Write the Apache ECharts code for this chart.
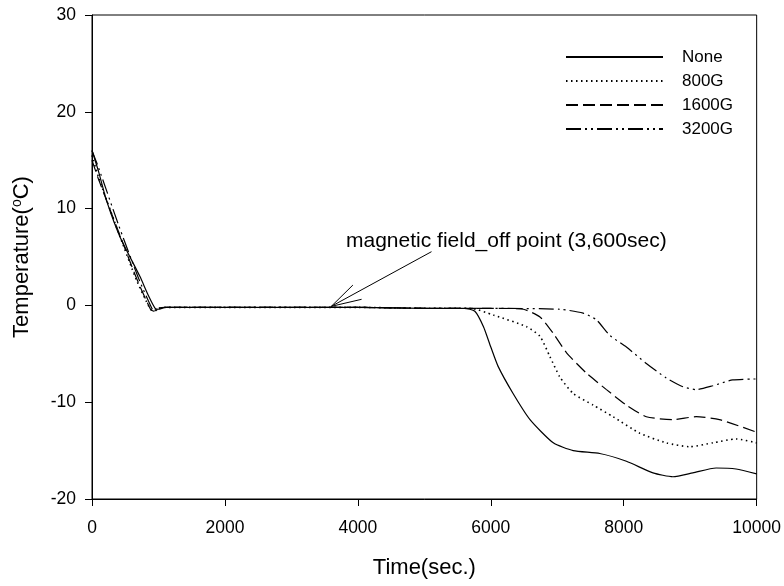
<!DOCTYPE html>
<html>
<head>
<meta charset="utf-8">
<script src="https://cdn.jsdelivr.net/npm/echarts@6/dist/echarts.min.js"></script>
<style>html,body{margin:0;padding:0;background:#fff}#c{width:784px;height:586px}</style>
</head>
<body>
<div id="c"></div>
<script>
const seriesNames = ['None', '800G', '1600G', '3200G'];
const xTicks = [0, 2000, 4000, 6000, 8000, 10000];
const yTicks = [-20, -10, 0, 10, 20, 30];

const noneData = [[0,16],[100,13.8],[220,10.8],[420,7.1],[720,3.0],[850,1.0],[950,-0.3],[1000,-0.4],[1100,-0.2],[2000,-0.2],[3000,-0.2],[4000,-0.2],[5000,-0.3],[5600,-0.3],[5760,-0.6],[5890,-2.2],[6000,-4.3],[6110,-6.3],[6335,-9.1],[6590,-11.8],[6940,-14.2],[7240,-15.0],[7640,-15.3],[8040,-16.1],[8440,-17.3],[8740,-17.7],[9040,-17.3],[9390,-16.8],[9690,-16.9],[10000,-17.4]];
const g800Data = [[0,15.5],[100,13.2],[400,7.5],[670,2.6],[870,-0.3],[920,-0.6],[1000,-0.3],[1100,-0.2],[2000,-0.2],[3000,-0.2],[4000,-0.2],[5000,-0.3],[5700,-0.3],[6040,-1.0],[6540,-2.2],[6740,-3.2],[6890,-5.3],[7040,-7.4],[7240,-9.1],[7540,-10.3],[7840,-11.5],[8240,-13.2],[8640,-14.2],[8990,-14.6],[9340,-14.2],[9690,-13.8],[10000,-14.2]];
const g1600Data = [[0,15],[100,13],[400,7.6],[670,2.8],[880,-0.4],[930,-0.6],[1000,-0.3],[1100,-0.2],[2000,-0.2],[3000,-0.2],[4000,-0.2],[5000,-0.3],[6000,-0.3],[6490,-0.4],[6740,-1.2],[6940,-2.9],[7140,-4.9],[7440,-7.0],[7740,-8.7],[8040,-10.3],[8340,-11.5],[8740,-11.8],[9090,-11.5],[9440,-11.8],[10000,-13.1]];
const g3200Data = [[0,16],[100,14.2],[400,8.3],[700,2.8],[900,-0.3],[950,-0.6],[1000,-0.3],[1100,-0.2],[2000,-0.2],[3000,-0.2],[4000,-0.2],[5000,-0.3],[6000,-0.3],[7040,-0.4],[7390,-0.8],[7590,-1.5],[7790,-3.1],[8040,-4.3],[8340,-6.0],[8640,-7.5],[8890,-8.4],[9090,-8.7],[9340,-8.3],[9640,-7.7],[10000,-7.6]];

const annotText = 'magnetic field_off point (3,600sec)';
const annotPoint = [3600, -0.1];
const annotEnds = [[5108, 5.55], [3925, 2.1], [4056, 0.63]];

const font = 'Liberation Sans, Arial, sans-serif';
const dashTypes = ['solid', [1.5, 3.5], [12, 5], [15, 4, 2, 4, 2, 4]];
const allData = [noneData, g800Data, g1600Data, g3200Data];

const series = seriesNames.map((n, i) => ({
  name: n, type: 'line', data: allData[i], symbol: 'none', showSymbol: false, silent: true,
  smooth: 0.2,
  lineStyle: { color: '#000', width: i === 1 ? 1.6 : 1.2, type: dashTypes[i] },
  itemStyle: { color: '#000' }
}));
series[0].markLine = {
  silent: true, symbol: 'none', animation: false,
  lineStyle: { color: '#000', width: 1, type: 'solid' },
  label: { show: false },
  data: annotEnds.map(e => [{ coord: annotPoint }, { coord: e }])
};

const chart = echarts.init(document.getElementById('c'));
chart.setOption({
  animation: false,
  backgroundColor: '#fff',
  grid: { left: 92, right: 27, top: 15, bottom: 87, show: true, borderColor: '#000', borderWidth: 1 },
  legend: {
    orient: 'vertical', left: 560, top: 42, itemWidth: 97, itemHeight: 14, itemGap: 4,
    data: seriesNames, selectedMode: false,
    itemStyle: { opacity: 0 },
    textStyle: { fontFamily: font, fontSize: 17, lineHeight: 20, color: '#000', padding: [0, 0, 0, 14] }
  },
  xAxis: {
    type: 'value', min: 0, max: 10000, interval: 2000,
    name: 'Time(sec.)', nameLocation: 'middle', nameGap: 58,
    nameTextStyle: { fontFamily: font, fontSize: 22, color: '#000' },
    axisLine: { onZero: false, lineStyle: { color: '#000', width: 1 } },
    axisTick: { inside: false, length: 7, lineStyle: { color: '#000' } },
    axisLabel: { fontFamily: font, fontSize: 17.5, color: '#000', margin: 20,
      formatter: v => xTicks.includes(v) ? String(v) : '' },
    splitLine: { show: false }
  },
  yAxis: {
    type: 'value', min: -20, max: 30, interval: 10,
    name: 'Temperature({sup|o}C)', nameLocation: 'middle', nameGap: 58,
    nameTextStyle: { fontFamily: font, fontSize: 22, color: '#000',
      rich: { sup: { fontFamily: font, fontSize: 14, color: '#000', verticalAlign: 'top', padding: [0, 0, 10, 0] } } },
    axisLine: { onZero: false, lineStyle: { color: '#000', width: 1 } },
    axisTick: { inside: false, length: 7, lineStyle: { color: '#000' } },
    axisLabel: { fontFamily: font, fontSize: 17.5, color: '#000', margin: 16,
      formatter: v => yTicks.includes(v) ? String(v) : '' },
    splitLine: { show: false }
  },
  graphic: [{
    type: 'text', left: 346, top: 231,
    style: { text: annotText, fontFamily: font, fontSize: 21, fill: '#000' }
  }],
  series: series
});
</script>
</body>
</html>
